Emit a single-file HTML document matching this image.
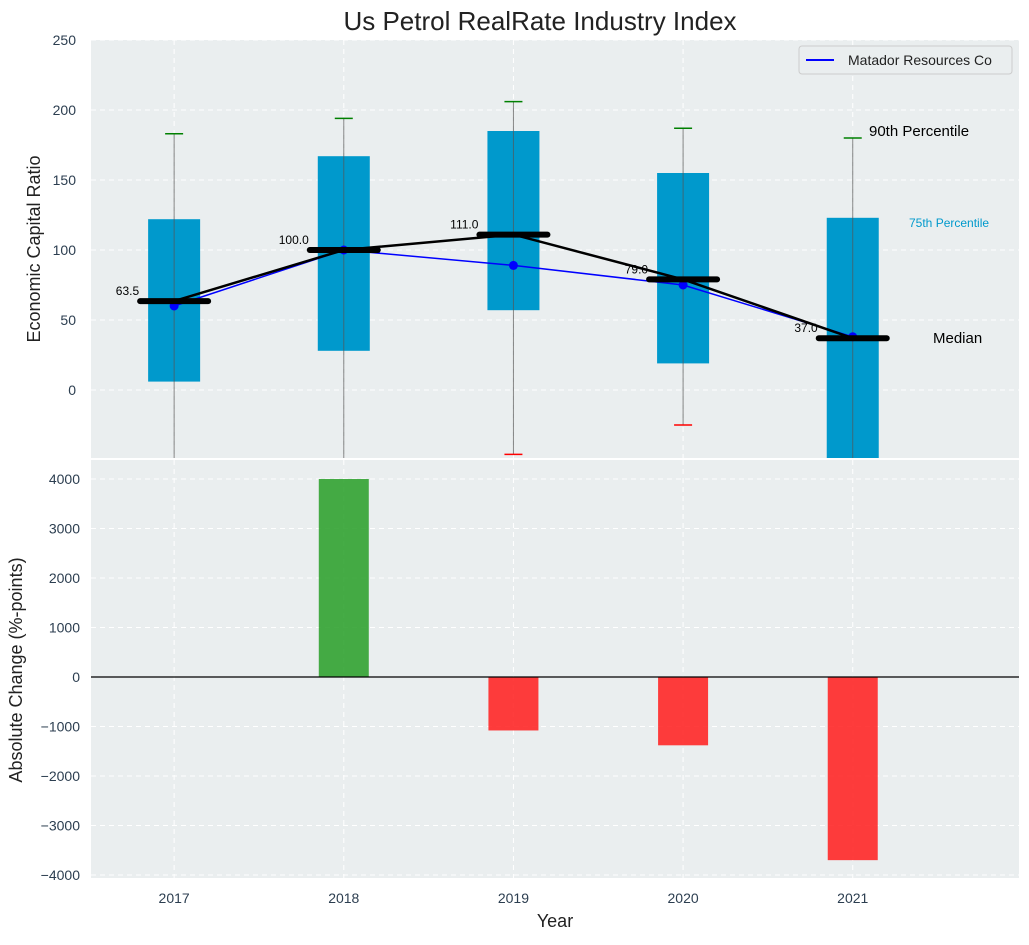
<!DOCTYPE html>
<html><head><meta charset="utf-8"><style>
body{margin:0;background:#fff;font-family:"Liberation Sans","DejaVu Sans",sans-serif;}
svg text{font-family:"Liberation Sans","DejaVu Sans",sans-serif;}
</style></head><body>
<svg id="c" width="1029" height="940" xmlns="http://www.w3.org/2000/svg"></svg>
<script>
const years=[2017,2018,2019,2020,2021];
const q1=[6,28,57,19,-60];
const q3=[122,167,185,155,123];
const p90=[183,194,206,187,180];
const p10=[-80,-80,-46,-25,-80];
const medians=[63.5,100,111,79,37];
const company=[60,100,89,75,38];
const changes=[0,4000,-1080,-1380,-3700];
const topTicks=[0,50,100,150,200,250];
const botTicks=[-4000,-3000,-2000,-1000,0,1000,2000,3000,4000];
const NS="http://www.w3.org/2000/svg";
const svg=document.getElementById('c');
const L=91,R=1019,T1=40,B1=458,T2=460,B2=878;
const x=v=>L+(v-2016.51)/(2021.98-2016.51)*(R-L);
const y1=v=>390-v*1.4;
const y2=v=>677-v*0.0495;
function el(t,a,p){const e=document.createElementNS(NS,t);for(const k in a)e.setAttribute(k,a[k]);(p||svg).appendChild(e);return e;}
function tx(s,a){const e=el('text',a);e.textContent=s;return e;}
const bg1=el('rect',{x:L,y:T1,width:R-L,height:B1-T1,fill:'#eaeeef'});

const bg2=el('rect',{x:L,y:T2,width:R-L,height:B2-T2,fill:'#eaeeef'});

const g=el('g',{stroke:'#fff','stroke-dasharray':'5,4','stroke-width':1});

years.forEach(v=>{el('line',{x1:x(v),x2:x(v),y1:T1,y2:B1},g);el('line',{x1:x(v),x2:x(v),y1:T2,y2:B2},g);});
topTicks.forEach(v=>{el('line',{x1:L,x2:R,y1:y1(v),y2:y1(v)},g);
 const t=tx(v,{x:76,y:y1(v)+5,'text-anchor':'end','font-size':14,fill:'#2c3e50'});
 });
botTicks.forEach(v=>{el('line',{x1:L,x2:R,y1:y2(v),y2:y2(v)},g);
 const t=tx(v<0?'\u2212'+(-v):v,{x:80,y:y2(v)+5,'text-anchor':'end','font-size':14,fill:'#2c3e50'});
 });
const cp=el('clipPath',{id:'cp1'});el('rect',{x:L,y:T1,width:R-L,height:B1-T1},cp);
const bx=el('g',{'clip-path':'url(#cp1)'});
years.forEach((v,i)=>{
 const r=el('rect',{x:x(v)-26,y:y1(q3[i]),width:52,height:y1(q1[i])-y1(q3[i]),fill:'#0099cc'},bx);
 
 el('line',{x1:x(v),x2:x(v),y1:y1(p90[i]),y2:y1(p10[i]),stroke:'#555','stroke-width':1,opacity:0.7},bx);
 const c=el('line',{x1:x(v)-9,x2:x(v)+9,y1:y1(p90[i]),y2:y1(p90[i]),stroke:'green','stroke-width':1.5},bx);
 
 const c2=el('line',{x1:x(v)-9,x2:x(v)+9,y1:y1(p10[i]),y2:y1(p10[i]),stroke:'red','stroke-width':1.5},bx);
 
});
const cl=el('polyline',{points:years.map((v,i)=>x(v)+','+y1(company[i])).join(' '),fill:'none',stroke:'blue','stroke-width':1.5});

years.forEach((v,i)=>{const d=el('circle',{cx:x(v),cy:y1(company[i]),r:4.5,fill:'blue'});
 });
const ml=el('polyline',{points:years.map((v,i)=>x(v)+','+y1(medians[i])).join(' '),fill:'none',stroke:'#000','stroke-width':2.5});

years.forEach((v,i)=>{const m=el('line',{x1:x(v)-34,x2:x(v)+34,y1:y1(medians[i]),y2:y1(medians[i]),stroke:'#000','stroke-width':6,'stroke-linecap':'round'});
 
 const t=tx(medians[i].toFixed(1),{x:x(v)-35,y:y1(medians[i])-6,'text-anchor':'end','font-size':12,fill:'#000'});
 });
let a=tx('90th Percentile',{x:869,y:136,'font-size':15,fill:'#000'});
a=tx('75th Percentile',{x:909,y:227,'font-size':12,fill:'#0099cc'});
a=tx('Median',{x:933,y:343,'font-size':15,fill:'#000'});
const lg=el('g',{});
el('rect',{x:799,y:46,width:213,height:28,rx:3,fill:'#eaeeef',stroke:'#ccc'},lg);
el('line',{x1:806,x2:834,y1:60,y2:60,stroke:'blue','stroke-width':2},lg);
const lt=tx('Matador Resources Co',{x:848,y:65,'font-size':14,fill:'#222'});lg.appendChild(lt);
years.forEach((v,i)=>{const c=changes[i];if(!c)return;
 const b=el('rect',{x:x(v)-25,y:Math.min(y2(0),y2(c)),width:50,height:Math.abs(y2(c)-y2(0)),fill:c>0?'#2ca02c':'#ff2222',opacity:0.88});
 });
const zl=el('line',{x1:L,x2:R,y1:y2(0),y2:y2(0),stroke:'#000','stroke-width':1.2});

years.forEach(v=>{const t=tx(v,{x:x(v),y:903,'text-anchor':'middle','font-size':14,fill:'#2c3e50'});
 });
a=tx('Year',{x:555,y:927,'text-anchor':'middle','font-size':18,fill:'#222'});
a=tx('Economic Capital Ratio',{x:0,y:0,'text-anchor':'middle','font-size':18,fill:'#222',transform:'translate(40,249) rotate(-90)'});
a=tx('Absolute Change (%-points)',{x:0,y:0,'text-anchor':'middle','font-size':18,fill:'#222',transform:'translate(22,670) rotate(-90)'});
a=tx('Us Petrol RealRate Industry Index',{x:540,y:30,'text-anchor':'middle','font-size':26,fill:'#222'});
</script>
</body></html>
